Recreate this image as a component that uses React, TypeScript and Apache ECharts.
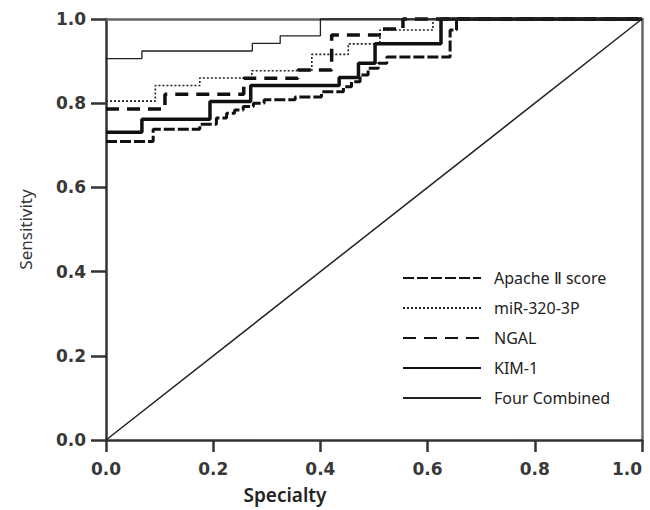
import React, { useEffect, useRef } from 'react';
import * as echarts from 'echarts';

const seriesNames = ['Apache Ⅱ score', 'miR-320-3P', 'NGAL', 'KIM-1', 'Four Combined'];

const apacheX = [0, 0.088, 0.175, 0.206, 0.225, 0.24, 0.256, 0.275, 0.295, 0.353, 0.402, 0.443, 0.458, 0.474, 0.489, 0.508, 0.524, 0.642, 0.654, 1];
const apacheY = [0.709, 0.738, 0.75, 0.765, 0.776, 0.784, 0.792, 0.8, 0.808, 0.815, 0.827, 0.839, 0.851, 0.867, 0.883, 0.895, 0.91, 0.974, 1, 1];

const mirX = [0, 0.092, 0.175, 0.272, 0.384, 0.452, 0.511, 0.61, 1];
const mirY = [0.805, 0.842, 0.86, 0.877, 0.916, 0.941, 0.974, 1, 1];

const ngalX = [0, 0.11, 0.257, 0.358, 0.421, 0.515, 0.554, 1];
const ngalY = [0.786, 0.821, 0.859, 0.879, 0.962, 0.976, 1, 1];

const kimX = [0, 0.067, 0.194, 0.27, 0.435, 0.471, 0.502, 0.625, 1];
const kimY = [0.731, 0.762, 0.804, 0.842, 0.861, 0.895, 0.941, 1, 1];

const comboX = [0, 0.067, 0.273, 0.325, 0.4, 1];
const comboY = [0.906, 0.924, 0.942, 0.96, 1, 1];

const diagX = [0, 1];
const diagY = [0, 1];

const pairs = (xs: number[], ys: number[]) => xs.map((x, i) => [x, ys[i]]);

export default function App() {
  const ref = useRef<HTMLDivElement>(null);
  useEffect(() => {
    document.body.style.margin = '0';
    const chart = echarts.init(ref.current!, null, { renderer: 'svg' });
    const lineStyles: any[] = [
      { color: '#111', width: 3, type: [11, 3] },
      { color: '#222', width: 1.6, type: [2, 2] },
      { color: '#111', width: 3.5, type: [13, 8] },
      { color: '#111', width: 3.5, type: 'solid' },
      { color: '#222', width: 1.3, type: 'solid' },
    ];
    const dataSets = [
      pairs(apacheX, apacheY),
      pairs(mirX, mirY),
      pairs(ngalX, ngalY),
      pairs(kimX, kimY),
      pairs(comboX, comboY),
    ];
    const labelStyle = {
      fontFamily: 'DejaVu Sans',
      fontWeight: 'bold',
      fontSize: 17,
      color: '#383838',
      formatter: (v: number) => v.toFixed(1),
    };
    const frameAxis = {
      type: 'value',
      min: 0,
      max: 1,
      interval: 0.2,
      splitLine: { show: false },
      axisLine: { show: true, onZero: false, lineStyle: { color: '#666', width: 2.5 } },
      axisTick: { show: false },
      axisLabel: { show: false },
    };
    chart.setOption({
      animation: false,
      grid: { left: 106, right: 8, top: 19, bottom: 70, outerBoundsMode: 'none' },
      xAxis: [
        {
          type: 'value',
          min: 0,
          max: 1,
          interval: 0.2,
          splitLine: { show: false },
          axisLine: { show: true, onZero: false, lineStyle: { color: '#333', width: 2.5 } },
          axisTick: { show: true, length: 12, lineStyle: { color: '#333', width: 2.5 } },
          axisLabel: { ...labelStyle, margin: 20, alignMaxLabel: 'right' },
        },
        { ...frameAxis, position: 'top' },
      ],
      yAxis: [
        {
          type: 'value',
          min: 0,
          max: 1,
          interval: 0.2,
          splitLine: { show: false },
          axisLine: { show: true, onZero: false, lineStyle: { color: '#333', width: 2.5 } },
          axisTick: { show: true, length: 15, lineStyle: { color: '#333', width: 2.5 } },
          axisLabel: { ...labelStyle, margin: 20 },
          name: 'Sensitivity',
          nameLocation: 'middle',
          nameGap: 72,
          nameTextStyle: { fontFamily: 'Noto Sans', fontSize: 17, color: '#333' },
        },
        { ...frameAxis, position: 'right' },
      ],
      legend: {
        orient: 'vertical',
        left: 402,
        top: 270,
        padding: 0,
        itemWidth: 78,
        itemHeight: 14,
        itemGap: 14,
        data: seriesNames,
        itemStyle: { opacity: 0 },
        textStyle: { fontFamily: 'Noto Sans', fontSize: 16, color: '#222', padding: [0, 0, 0, 8] },
      },
      graphic: [
        {
          type: 'text',
          x: 285,
          y: 495,
          style: {
            text: 'Specialty',
            align: 'center',
            verticalAlign: 'middle',
            fontFamily: 'Noto Sans',
            fontWeight: 600,
            fontSize: 19,
            fill: '#222',
          },
        },
      ],
      series: [
        ...seriesNames.map((name, i) => ({
          name,
          type: 'line',
          step: 'end',
          symbol: 'none',
          clip: false,
          data: dataSets[i],
          lineStyle: lineStyles[i],
          itemStyle: { color: lineStyles[i].color },
          z: 3 + i,
        })),
        {
          name: 'diagonal',
          type: 'line',
          symbol: 'none',
          silent: true,
          clip: false,
          data: pairs(diagX, diagY),
          lineStyle: { color: '#222', width: 1.5 },
          z: 2,
        },
      ],
    });
    return () => chart.dispose();
  }, []);
  return <div ref={ref} style={{ width: 650, height: 510 }} />;
}
